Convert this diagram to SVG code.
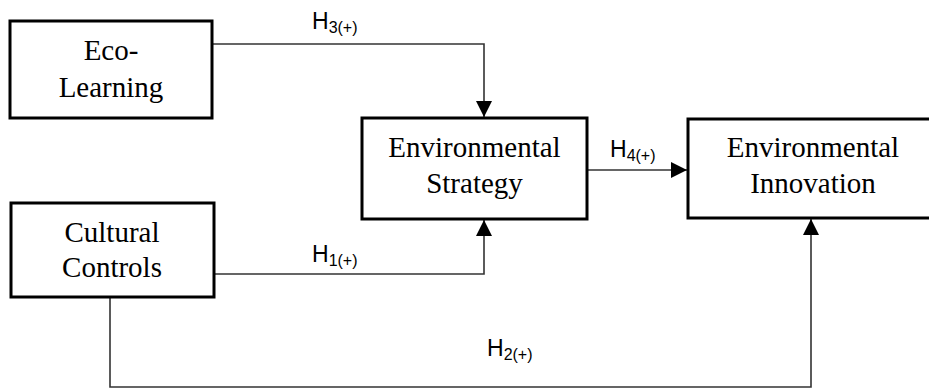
<svg xmlns="http://www.w3.org/2000/svg" width="929" height="390" viewBox="0 0 929 390">
<style>
.box{fill:#fff;stroke:#000;stroke-width:3}
.t{font-family:"Liberation Serif","Times New Roman",serif;font-size:29px;fill:#000;text-anchor:middle}
.lab{font-family:"Liberation Sans",Arial,sans-serif;font-size:23px;fill:#000}
.sub{font-size:16px}
.c{fill:none;stroke:#333;stroke-width:1.6}
</style>
<defs>
<marker id="ah" viewBox="0 0 16 16" refX="16" refY="8" markerWidth="16" markerHeight="16" markerUnits="userSpaceOnUse" orient="auto">
<path d="M0,0 L16,8 L0,16 Z" fill="#000"/>
</marker>
</defs>
<rect width="929" height="390" fill="#fff"/>
<g id="connectors">
<path class="c" d="M212,44 H484 V117" marker-end="url(#ah)"/>
<path class="c" d="M214,274 H484 V220" marker-end="url(#ah)"/>
<path class="c" d="M587,170 H687" marker-end="url(#ah)"/>
<path class="c" d="M110,297 V387 H811 V219" marker-end="url(#ah)"/>
</g>
<g id="eco-learning">
<rect class="box" x="10" y="21" width="202" height="97"/>
<text class="t" x="111" y="60">Eco-</text>
<text class="t" x="111" y="97">Learning</text>
</g>
<g id="environmental-strategy">
<rect class="box" x="362" y="118" width="225" height="101"/>
<text class="t" x="474.5" y="157">Environmental</text>
<text class="t" x="474.5" y="193">Strategy</text>
</g>
<g id="environmental-innovation">
<rect class="box" x="688" y="119" width="250" height="99"/>
<text class="t" x="813" y="157">Environmental</text>
<text class="t" x="813" y="193">Innovation</text>
</g>
<g id="cultural-controls">
<rect class="box" x="11" y="203" width="203" height="94"/>
<text class="t" x="112" y="242">Cultural</text>
<text class="t" x="112" y="277">Controls</text>
</g>
<g id="labels">
<text class="lab" x="312" y="29">H<tspan class="sub" dy="4">3(+)</tspan></text>
<text class="lab" x="610" y="157">H<tspan class="sub" dy="4">4(+)</tspan></text>
<text class="lab" x="312" y="262">H<tspan class="sub" dy="4">1(+)</tspan></text>
<text class="lab" x="487" y="356">H<tspan class="sub" dy="4">2(+)</tspan></text>
</g>
</svg>
